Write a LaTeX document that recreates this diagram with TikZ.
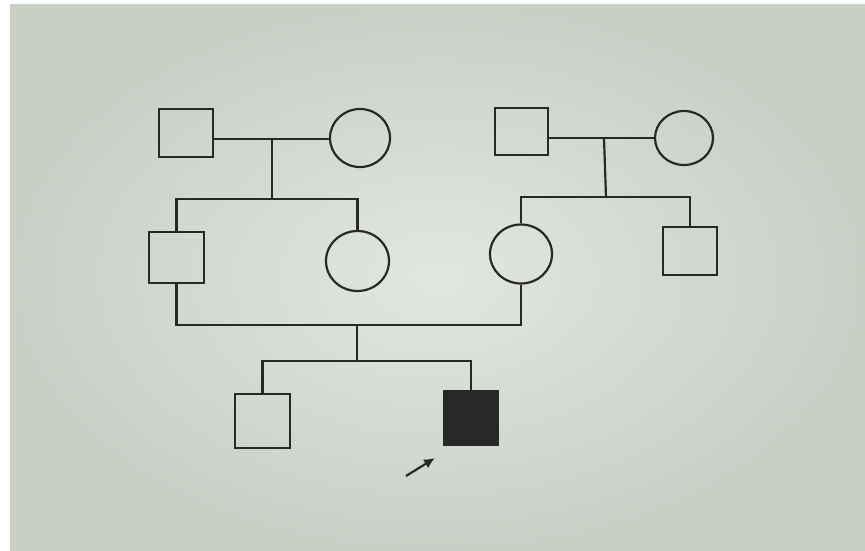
\documentclass[tikz,border=0pt]{standalone}
\usetikzlibrary{shapes.geometric,arrows.meta}
\definecolor{paperlight}{RGB}{226,230,224}
\definecolor{paperdark}{RGB}{200,208,198}
\definecolor{ink}{RGB}{40,40,40}
\begin{document}
\begin{tikzpicture}[x=1pt,y=-1pt,
  male/.style={draw=ink,line width=2.2pt,rectangle,inner sep=0pt},
  female/.style={draw=ink,line width=2.2pt,ellipse,inner sep=0pt},
  link/.style={draw=ink,line width=2.2pt}]
\useasboundingbox (0,0) rectangle (865,550);
\fill[white] (0,0) rectangle (865,550);
\shade[inner color=paperlight,outer color=paperdark] (10,4) rectangle (865,550);

% generation I
\node[male,minimum width=54pt,minimum height=48pt] (I1) at (186,133) {};
\node[female,minimum width=60pt,minimum height=58pt] (I2) at (360,138) {};
\node[male,minimum width=53pt,minimum height=47pt] (I3) at (521.5,131.5) {};
\node[female,minimum width=58pt,minimum height=54pt] (I4) at (684,138) {};
% generation II
\node[male,minimum width=55pt,minimum height=51pt] (II1) at (176.5,257.5) {};
\node[female,minimum width=63pt,minimum height=60pt] (II2) at (357.5,261) {};
\node[female,minimum width=62pt,minimum height=59pt] (II3) at (521,254) {};
\node[male,minimum width=54pt,minimum height=48pt] (II4) at (690,251) {};
% generation III
\node[male,minimum width=55pt,minimum height=54pt] (III1) at (262.5,421) {};
\node[male,fill=ink,minimum width=54pt,minimum height=54pt] (III2) at (471,418) {};

% junction points
\coordinate (c1) at (272,139);
\coordinate (s1) at (272,199);
\coordinate (c2) at (604,138);
\coordinate (s2) at (606,197);
\coordinate (m2) at (357,325);
\coordinate (s3) at (357,361);
\coordinate (a0) at (406,476);
\coordinate (a1) at (435,458);

% family 1
\draw[link] (I1.east |- c1) -- (I2.west |- c1);
\draw[link] (c1) -- (s1);
\draw[link] (II1.north) |- (s1) -| (II2.north);
% family 2
\draw[link] (I3.east |- c2) -- (I4.west |- c2);
\draw[link] (c2) -- (s2);
\draw[link] (II3.north) |- (s2) -| (II4.north);
% family 3
\draw[link] (II1.south) |- (m2) -| (II3.south);
\draw[link] (m2) -- (s3);
\draw[link] (III1.north) |- (s3) -| (III2.north);

% proband arrow
\draw[ink,line width=2.2pt,-{Latex[length=11pt,width=10pt]}] (a0) -- (a1);
\end{tikzpicture}
\end{document}
